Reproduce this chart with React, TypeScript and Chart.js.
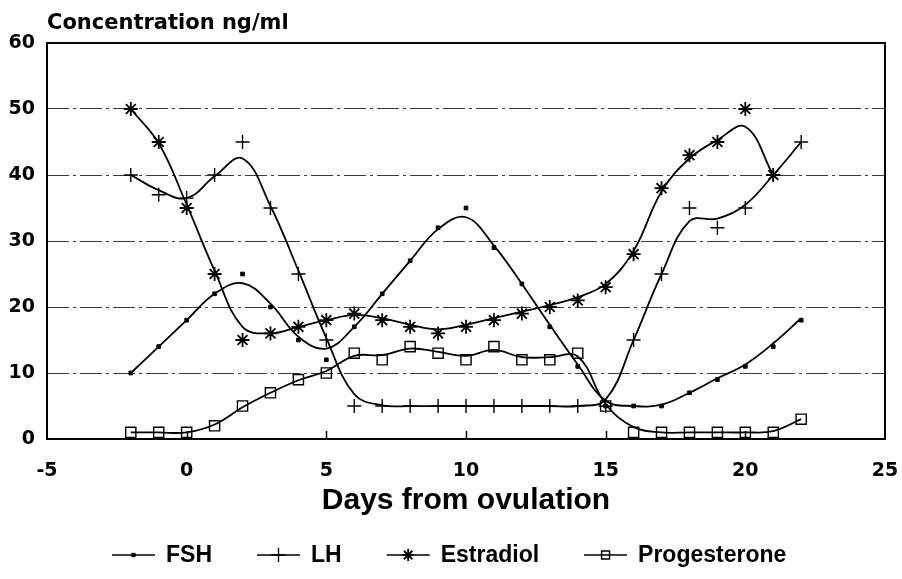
import React, { useEffect, useRef } from 'react';
import { Chart, registerables } from 'chart.js';
import { drawPoint } from 'chart.js/helpers';

Chart.register(...registerables);

// ---- data (days from ovulation) ----
const days = [-2, -1, 0, 1, 2, 3, 4, 5, 6, 7, 8, 9, 10, 11, 12, 13, 14, 15, 16, 17, 18, 19, 20, 21, 22];

// measured points
const fshPoints = [10, 14, 18, 22, 25, 20, 15, 12, 17, 22, 27, 32, 35, 29, 23.5, 17, 11, 5, 5, 5, 7, 9, 11, 14, 18];
const lhPoints = [40, 37, 36.5, 40, 45, 35, 25, 15, 5, 5, 5, 5, 5, 5, 5, 5, 5, 5, 15, 25, 35, 32, 35, 40, 45];
const estradiolPoints = [50, 45, 35, 25, 15, 16, 17, 18, 19, 18, 17, 16, 17, 18, 19, 20, 21, 23, 28, 38, 43, 45, 50, 40, null];
const progesteronePoints = [1, 1, 1, 2, 5, 7, 9, 10, 13, 12, 14, 13, 12, 14, 12, 12, 13, 5, 1, 1, 1, 1, 1, 1, 3];

// smoothed fitted curves
const fshFit = [10, 14, 18, 22, 23.6, 20.5, 15.5, 13.7, 17, 22, 27, 31.8, 33.6, 29.3, 23.5, 17.3, 11.3, 5.8, 5, 5.2, 7, 9.2, 11.3, 14.5, 18.3];
const lhFit = [40, 37.7, 36.5, 39.8, 42.5, 35.3, 25.5, 15.3, 6.8, 5.1, 5, 5, 5, 5, 5, 5, 5, 6, 15, 25, 33, 33.4, 35.5, 40, 45];
const estradiolFit = [50, 44.8, 35.5, 25.5, 17, 16, 17, 18, 18.8, 18.3, 17.3, 16.6, 17.3, 18.3, 19.3, 20.3, 21.5, 23.5, 28.5, 37.5, 42.5, 45.3, 47.3, 40, null];
const progesteroneFit = [1, 1, 1, 2.2, 4.8, 7, 8.9, 10.3, 12.6, 12.7, 13.7, 13.2, 12.6, 13.5, 12.4, 12.4, 12.5, 5.3, 1.8, 1, 1, 1, 1, 1.2, 3];

const seriesNames = ['FSH', 'LH', 'Estradiol', 'Progesterone'];
const xTickValues = [-5, 0, 5, 10, 15, 20, 25];
const yTickValues = [0, 10, 20, 30, 40, 50, 60];
const innerTickValues = [0, 5, 10, 15, 20];
const yAxisTitle = 'Concentration ng/ml';
const xAxisTitle = 'Days from ovulation';

const markerStyles = [
  { pointStyle: 'rect', radius: 2.6, borderWidth: 1, fill: '#000', legendRadius: 2.4 },
  { pointStyle: 'cross', radius: 7, borderWidth: 1.4, fill: '#000', legendRadius: 7 },
  { pointStyle: 'star', radius: 7, borderWidth: 1.8, fill: '#000', legendRadius: 6 },
  { pointStyle: 'rect', radius: 7.2, borderWidth: 1.4, fill: 'rgba(0,0,0,0)', legendRadius: 5.6 },
];

const pointSets = [fshPoints, lhPoints, estradiolPoints, progesteronePoints];
const fitSets = [fshFit, lhFit, estradiolFit, progesteroneFit];

const toXY = (arr: (number | null)[]) => days.map((d, i) => ({ x: d, y: arr[i] }));

const framePlugin = {
  id: 'frame',
  afterDraw(chart: any) {
    const { ctx, chartArea, scales } = chart;
    const { left, right, top, bottom } = chartArea;
    ctx.save();
    // box
    ctx.strokeStyle = '#000';
    ctx.lineWidth = 2;
    ctx.strokeRect(left, top, right - left, bottom - top);
    // inner x ticks
    ctx.lineWidth = 1.5;
    innerTickValues.forEach((v) => {
      const px = Math.round(scales.x.getPixelForValue(v)) + 0.5;
      ctx.beginPath();
      ctx.moveTo(px, bottom);
      ctx.lineTo(px, bottom - 8);
      ctx.stroke();
    });
    // y-axis title at top-left
    ctx.fillStyle = '#000';
    ctx.font = 'bold 21px "DejaVu Sans"';
    ctx.textAlign = 'left';
    ctx.textBaseline = 'alphabetic';
    ctx.fillText(yAxisTitle, 47, 29);

    // legend
    ctx.font = 'bold 23px "Liberation Sans"';
    ctx.textBaseline = 'middle';
    const ly = 555;
    let lx = 112;
    seriesNames.forEach((name, i) => {
      const m = markerStyles[i];
      const lineLen = 43;
      ctx.strokeStyle = '#000';
      ctx.lineWidth = 1.6;
      ctx.beginPath();
      ctx.moveTo(lx, ly);
      ctx.lineTo(lx + lineLen, ly);
      ctx.stroke();
      ctx.fillStyle = m.fill;
      ctx.lineWidth = m.borderWidth;
      drawPoint(ctx, { pointStyle: m.pointStyle, rotation: 0, radius: m.legendRadius, borderWidth: m.borderWidth }, lx + lineLen / 2, ly);
      ctx.fillStyle = '#000';
      const tx = lx + lineLen + 11;
      ctx.fillText(name, tx, ly + 1);
      lx = tx + ctx.measureText(name).width + 45;
    });
    ctx.restore();
  },
};

export default function App() {
  const canvasRef = useRef<HTMLCanvasElement | null>(null);

  useEffect(() => {
    const canvas = canvasRef.current;
    if (!canvas) return;

    const datasets: any[] = [];
    seriesNames.forEach((name, i) => {
      const m = markerStyles[i];
      datasets.push({
        label: name + ' fit',
        data: toXY(fitSets[i]),
        borderColor: '#000',
        borderWidth: 1.8,
        pointRadius: 0,
        tension: 0.4,
        fill: false,
        spanGaps: false,
      });
      datasets.push({
        label: name,
        data: toXY(pointSets[i]),
        showLine: false,
        pointStyle: m.pointStyle,
        pointRadius: m.radius,
        pointBorderWidth: m.borderWidth,
        pointBorderColor: '#000',
        pointBackgroundColor: m.fill,
      });
    });

    const tickFont = { family: '"DejaVu Sans"', weight: 'bold' as const, size: 19 };

    const chart = new Chart(canvas, {
      type: 'line',
      data: { datasets },
      plugins: [framePlugin],
      options: {
        animation: false,
        responsive: false,
        devicePixelRatio: 1,
        layout: { padding: { top: 43, bottom: 60, left: 0, right: 17 } },
        plugins: { legend: { display: false }, tooltip: { enabled: false }, title: { display: false } },
        scales: {
          x: {
            type: 'linear',
            min: -5,
            max: 25,
            afterBuildTicks: (s: any) => { s.ticks = xTickValues.map((v) => ({ value: v })); },
            ticks: { font: tickFont, color: '#000', padding: 13, maxRotation: 0, autoSkip: false },
            grid: { display: false },
            border: { display: false },
            title: {
              display: true,
              text: xAxisTitle,
              color: '#000',
              font: { family: '"Liberation Sans"', weight: 'bold', size: 30 },
              padding: { top: 0, bottom: 0 },
            },
            afterFit: (s: any) => { s.height = 80; s.paddingLeft = 0; s.paddingRight = 0; },
          },
          y: {
            type: 'linear',
            min: 0,
            max: 60,
            afterBuildTicks: (s: any) => { s.ticks = yTickValues.map((v) => ({ value: v })); },
            ticks: { font: tickFont, color: '#000', padding: 12 },
            grid: {
              drawTicks: false,
              lineWidth: 1,
              color: (c: any) => (c.tick && (c.tick.value === 0 || c.tick.value === 60) ? 'rgba(0,0,0,0)' : '#3a3a3a'),
            },
            border: { display: false, dash: [22, 4, 3, 4] },
            afterFit: (s: any) => { s.width = 47; s.paddingTop = 0; s.paddingBottom = 0; },
          },
        },
      },
    });
    return () => chart.destroy();
  }, []);

  return (
    <div style={{ position: 'fixed', left: 0, top: 0, width: 902, height: 579, background: '#fff' }}>
      <canvas ref={canvasRef} width={902} height={579} style={{ display: 'block' }} />
    </div>
  );
}
